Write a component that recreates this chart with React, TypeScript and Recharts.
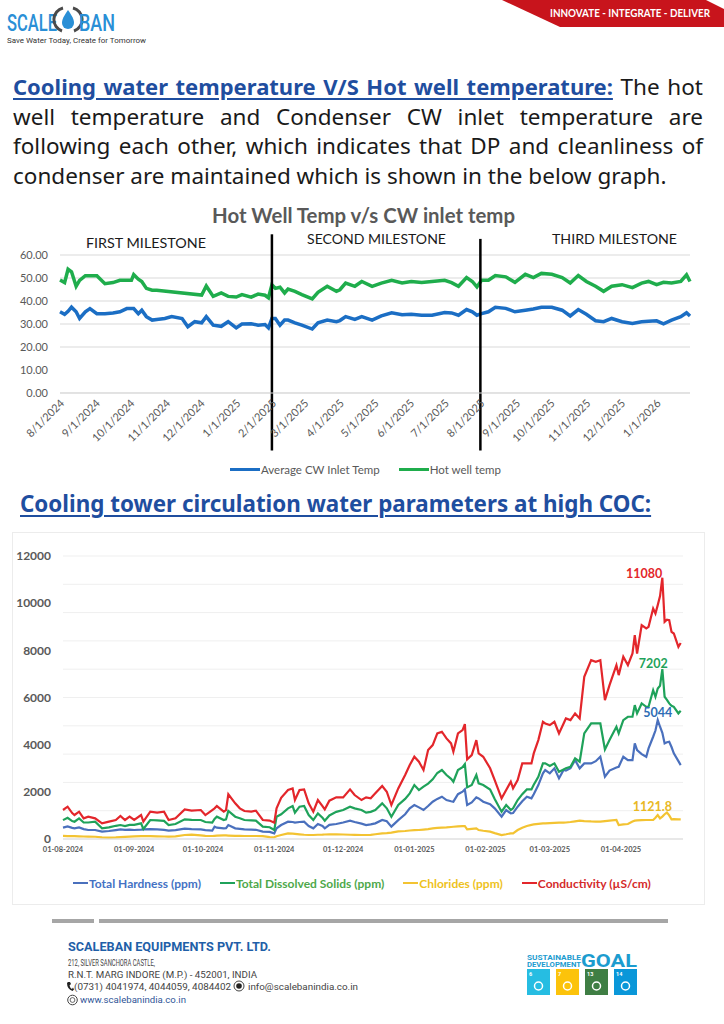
import React from 'react';
import { LineChart, Line, XAxis, YAxis, CartesianGrid, Legend, ReferenceLine } from 'recharts';

// ---- chart 1: hot well vs CW inlet (x = days since 1 Aug 2024) ----
const hwDays = [
  0, 4, 7, 10, 14, 17, 22, 26, 32, 39,
  46, 52, 58, 62, 64, 68, 71, 75, 80, 84,
  91, 97, 106, 111, 117, 123, 127, 133, 140, 146,
  153, 158, 166, 172, 178, 181, 184, 187, 191, 195,
  198, 204, 210, 219, 224, 232, 240, 243, 248, 256,
  262, 271, 279, 288, 297, 305, 314, 323, 334, 340,
  346, 353, 358, 362, 366, 372, 378, 387, 395, 404,
  411, 418, 427, 436, 443, 450, 457, 465, 472, 479,
  488, 497, 505, 511, 518, 524, 531, 539, 544, 547,
];
const cwInlet = [
  35.3, 34.2, 35.5, 37.3, 35.3, 32.4, 35.3, 36.7, 34.5, 34.5,
  34.8, 35.3, 36.7, 36.7, 36.7, 34.5, 36, 33.2, 31.7, 32,
  32.4, 33.2, 32.4, 28.8, 31, 30.5, 33.2, 29.5, 29, 31,
  28.3, 30, 30.1, 29.5, 29.8, 28.3, 32.4, 32.4, 29.5, 31.7,
  31.7, 30.5, 29.5, 27.8, 30.5, 31.7, 31, 31.5, 33.2, 32,
  33.2, 31.7, 33.5, 34.9, 34, 34.2, 33.8, 33.8, 35, 34.8,
  33.8, 36.3, 35.3, 33.8, 34.5, 35.3, 37.3, 36.8, 35.3, 36,
  36.5, 37.3, 37.3, 36, 33.5, 36.3, 34.2, 31.4, 31, 32.4,
  31, 30.2, 31, 31.2, 31.4, 30.1, 31.7, 33.2, 34.9, 33.5,
];
const hotWell = [
  49.1, 48, 53.8, 52.7, 46.4, 49, 51, 51, 51, 47.5,
  48, 49, 49, 49, 51.5, 49.5, 48.5, 45.5, 44.7, 44.7,
  null, null, null, null, null, 42.6, 46.5, 42, 43.5, 42,
  41.7, 42.8, 41.7, 43, 42.5, 41.4, 47, 45.5, 46, 43.5,
  45.2, 44.2, 42.8, 40.9, 43.8, 46.4, 44.2, 44.9, 47.8, 46.4,
  48.5, 46.4, 47.8, 49, 47.8, 48.5, 48, 48.5, 49, 48,
  46.4, 50.2, 48.5, 46.1, 49, 49, 51.1, 50.5, 48.1, 51.6,
  50.2, 52, 51.6, 50.2, 47.8, 51.1, 48.5, 46.4, 44.2, 46.4,
  47.1, 45.8, 47.8, 48.5, 47.1, 48.1, 47.8, 48.5, 51.4, 48.5,
];
const hwTickLabels = [
  '8/1/2024', '9/1/2024', '10/1/2024', '11/1/2024', '12/1/2024', '1/1/2025',
  '2/1/2025', '3/1/2025', '4/1/2025', '5/1/2025', '6/1/2025', '7/1/2025',
  '8/1/2025', '9/1/2025', '10/1/2025', '11/1/2025', '12/1/2025', '1/1/2026',
];
const hwYTicks = [0, 10, 20, 30, 40, 50, 60];
const milestoneDates = ['2/1/2025', '8/1/2025'];

// ---- chart 2: cooling tower water at high COC ----
const cocDays = [
  0, 2, 4, 5, 7, 9, 11, 14, 17, 20,
  23, 25, 27, 29, 31, 34, 35, 38, 41, 44,
  46, 49, 53, 56, 60, 62, 65, 66, 67, 70,
  71, 72, 75, 77, 79, 82, 84, 87, 90, 92,
  93, 95, 98, 100, 101, 103, 105, 107, 109, 111,
  113, 114, 116, 119, 122, 125, 127, 130, 132, 134,
  136, 139, 141, 143, 146, 149, 151, 153, 155, 157,
  159, 161, 163, 165, 167, 169, 170, 172, 174, 175,
  176, 178, 180, 181, 183, 186, 188, 191, 193, 195,
  196, 198, 200, 202, 204, 205, 207, 209, 210, 212,
  214, 216, 218, 219, 221, 223, 225, 227, 230, 232,
  234, 236, 238, 241, 242, 244, 246, 248, 249, 250,
  252, 254, 255, 257, 258, 259, 260, 261, 262, 263,
  264, 265, 266, 268, 269,
];
const hardness = [
  480, 530, 470, 452, 494, 420, 381, 381, 311, 340,
  380, 410, 390, 395, 381, 400, 410, 420, 410, 390,
  353, 380, 438, 420, 410, 380, 353, 523, 480, 452,
  460, 593, 452, 430, 410, 400, 390, 311, 300, 240,
  452, 593, 734, 720, 692, 720, 734, 551, 452, 635,
  550, 452, 600, 635, 700, 777, 720, 650, 593, 620,
  664, 805, 750, 523, 800, 1050, 1300, 1441, 1342, 1229,
  1400, 1582, 1700, 1793, 1652, 1600, 1582, 1900, 2005, 2104,
  1441, 1550, 1765, 1723, 1582, 1480, 1300, 946, 1229, 1087,
  1100, 1370, 1600, 1793, 1723, 1900, 2288, 2783, 2924, 2783,
  2995, 2571, 2924, 2900, 3000, 3347, 2995, 3206, 3206, 3300,
  3488, 2640, 2900, 3030, 3064, 3488, 3347, 3347, 4054, 3771,
  3600, 3488, 3842, 4336, 4600, 5044, 4760, 4500, 4054, 4100,
  4125, 3900, 3630, 3300, 3135,
];
const tds = [
  800, 900, 760, 734, 876, 700, 700, 734, 452, 494,
  560, 593, 550, 600, 600, 664, 424, 805, 790, 770,
  593, 635, 833, 810, 805, 720, 692, 850, 946, 805,
  830, 1187, 946, 880, 805, 790, 777, 523, 500, 381,
  946, 1050, 1300, 1398, 1116, 1370, 1398, 1017, 805, 1087,
  900, 777, 1000, 1150, 1229, 1370, 1300, 1229, 1116, 1150,
  1229, 1511, 1300, 946, 1441, 1700, 1935, 2288, 2076, 2217,
  2350, 2528, 2800, 2924, 2712, 2550, 2429, 2924, 3050, 3178,
  2189, 2288, 2712, 2360, 2289, 2100, 1700, 1158, 1441, 1229,
  1300, 1652, 1900, 2104, 2104, 2300, 2640, 3206, 3206, 3100,
  3206, 2853, 2950, 3000, 3064, 3418, 3276, 4478, 4900, 4900,
  4900, 3800, 4200, 4760, 4478, 5042, 5184, 5184, 5678, 5326,
  5749, 5607, 5607, 6313, 6031, 6384, 6500, 7202, 6031, 5900,
  5749, 5650, 5607, 5326, 5438,
];
const chlorides = [
  130, 125, 120, 118, 115, 105, 100, 95, 70, 60,
  65, 80, 90, 100, 110, 125, 127, 120, 110, 105,
  99, 110, 170, 184, 150, 130, 127, 135, 145, 155,
  150, 145, 135, 130, 127, 127, 127, 120, 80, 75,
  120, 170, 240, 230, 220, 200, 180, 170, 170, 180,
  185, 190, 195, 198, 190, 180, 175, 170, 170, 175,
  200, 240, 250, 270, 320, 340, 360, 375, 381, 400,
  420, 452, 470, 485, 494, 510, 520, 535, 545, 550,
  410, 430, 452, 381, 350, 311, 250, 169, 200, 240,
  240, 381, 480, 551, 600, 620, 640, 664, 664, 670,
  680, 692, 692, 700, 720, 750, 777, 760, 745, 740,
  734, 760, 780, 805, 593, 620, 635, 740, 777, 790,
  800, 805, 805, 805, 900, 1017, 876, 950, 1050, 1121.8,
  1000, 833, 840, 833, 833,
];
const conductivity = [
  1230, 1370, 1100, 1017, 1158, 876, 946, 876, 664, 734,
  805, 974, 805, 946, 805, 1017, 734, 1158, 1116, 1158,
  805, 876, 1257, 1200, 1229, 1017, 1229, 1300, 1398, 1158,
  1229, 1893, 1511, 1300, 1187, 1158, 1200, 805, 780, 691,
  1300, 1750, 2076, 2146, 1652, 2076, 2100, 1511, 1158, 1652,
  1398, 1257, 1624, 1765, 1765, 2104, 1864, 1652, 1765, 1723,
  1935, 2246, 2005, 1441, 2146, 2712, 3135, 3488, 3276, 2924,
  3771, 3983, 4478, 4548, 4266, 4054, 3700, 4478, 4618, 4872,
  3375, 3559, 4195, 3630, 3488, 3000, 2500, 1723, 2076, 2429,
  2146, 2500, 3206, 3206, 3206, 3630, 4195, 4971, 4900, 4830,
  4971, 4478, 4900, 5113, 5042, 5326, 5113, 6877, 7584, 7513,
  7584, 5890, 6525, 7372, 6949, 7725, 7372, 7866, 8643, 7866,
  9067, 8926, 8996, 9775, 9563, 9916, 10300, 11080, 9208, 9300,
  9278, 8784, 8714, 8148, 8313,
];
const cocSeriesNames = ['Total Hardness (ppm)', 'Total Dissolved Solids (ppm)', 'Chlorides (ppm)', 'Conductivity (µS/cm)'];
const cocTickLabels = [
  '01-08-2024', '01-09-2024', '01-10-2024', '01-11-2024', '01-12-2024',
  '01-01-2025', '01-02-2025', '01-03-2025', '01-04-2025',
];
const cocYTicks = [0, 2000, 4000, 6000, 8000, 10000, 12000];

const FONT = 'Lato, "Noto Sans", sans-serif';
const BASE = Date.UTC(2024, 7, 1);
const toDay = (y: number, m: number, d: number) => (Date.UTC(y, m - 1, d) - BASE) / 86400000;
const usDay = (s: string) => { const [m, d, y] = s.split('/').map(Number); return toDay(y, m, d); };
const inDay = (s: string) => { const [d, m, y] = s.split('-').map(Number); return toDay(y, m, d); };

const hwTicks = hwTickLabels.map(usDay);
const cocTicks = cocTickLabels.map(inDay);
const cocGrid = Array.from({ length: 31 }, (_, i) => i * 400);

const hwData = hwDays.map((day, i) => ({ day, cw: cwInlet[i], hw: hotWell[i] }));
const cocData = cocDays.map((day, i) => ({
  day, th: hardness[i], tds: tds[i], cl: chlorides[i], ec: conductivity[i],
}));

function HwTick(props: any) {
  const { x, y, payload } = props;
  const tx = x + 5;
  const ty = y + 3;
  return (
    <text x={tx} y={ty} textAnchor="end" fontSize={11} fill="#595959" fontFamily={FONT}
      transform={`rotate(-45 ${tx} ${ty})`}>
      {hwTickLabels[hwTicks.indexOf(payload.value)]}
    </text>
  );
}

function peakLabel(values: number[], color: string, dx: number, dy: number, anchor: string) {
  const top = Math.max(...values);
  return (p: any) => {
    if (values[p.index] !== top) return <g />;
    return (
      <text x={p.x + dx} y={p.y + dy} textAnchor={anchor} fill={color} fontSize={12.5}
        fontWeight={700} fontFamily={FONT}>{top}</text>
    );
  };
}

function legendRow(opt: { shift: number; gap: number; sample: number; thick: number; size: number; bold: boolean; textColors?: Record<string, string> }) {
  return (props: any) => (
    <div style={{ display: 'flex', justifyContent: 'center', alignItems: 'center', height: 20,
      paddingLeft: opt.shift, gap: opt.gap, fontFamily: FONT, fontSize: opt.size, fontWeight: opt.bold ? 700 : 400 }}>
      {(props.payload || []).map((p: any) => (
        <span key={p.value} style={{ display: 'flex', alignItems: 'center', color: opt.textColors ? opt.textColors[p.value] : '#595959' }}>
          <span style={{ display: 'inline-block', width: opt.sample, height: opt.thick, background: p.color, marginRight: 1 }} />
          {p.value}
        </span>
      ))}
    </div>
  );
}

function Abs({ x, y, w, h, children }: any) {
  return <div style={{ position: 'absolute', left: x, top: y, width: w, height: h }}>{children}</div>;
}

function FitText({ x, y, w, size, color, weight, text, family }: any) {
  return (
    <svg style={{ position: 'absolute', left: x, top: y - size, overflow: 'visible' }} width={w} height={size * 1.4}>
      <text x={0} y={size} textLength={w} lengthAdjust="spacingAndGlyphs" fontSize={size}
        fill={color} fontWeight={weight} fontFamily={family || FONT}>{text}</text>
    </svg>
  );
}

const bodyLines = [
  'well temperature and Condenser CW inlet temperature are',
  'following each other, which indicates that DP and cleanliness of',
];

export default function App() {
  const lineStyle: React.CSSProperties = {
    fontFamily: '"Noto Sans", sans-serif', fontSize: 22.5, lineHeight: '29.7px', color: '#1a1a1a',
    textAlign: 'justify', textAlignLast: 'justify', whiteSpace: 'nowrap',
  };
  const heading: React.CSSProperties = {
    fontFamily: '"Noto Sans", sans-serif', fontWeight: 700, color: '#1f4e9f', textDecoration: 'underline',
    textUnderlineOffset: 3,
  };
  return (
    <div style={{ position: 'absolute', left: 0, top: 0, width: 724, height: 1024, background: '#fff', overflow: 'hidden' }}>
      {/* header */}
      <svg style={{ position: 'absolute', left: 0, top: 0 }} width={724} height={45}>
        <polygon points="502,0 706,0 724,9 724,27 560,27" fill="#c8141c" />
        <text x={550} y={17} textLength={160} lengthAdjust="spacingAndGlyphs" fontSize={10.5} fontWeight={700}
          fill="#fff" fontFamily={FONT}>INNOVATE - INTEGRATE - DELIVER</text>
        <text x={7} y={31} textLength={50} lengthAdjust="spacingAndGlyphs" fontSize={23} fontWeight={500}
          fill="#2a8fd6" fontFamily="Roboto, sans-serif">SCALE</text>
        <path d="M63 8 A 12 12 0 0 0 62 31" stroke="#4a4a4a" strokeWidth={3} fill="none" />
        <path d="M73 8 A 12 12 0 0 1 74 31" stroke="#4a4a4a" strokeWidth={3} fill="none" />
        <path d="M68 10 C 72 16, 74 19, 74 23 A 6 6 0 0 1 62 23 C 62 19, 64 16, 68 10 Z" fill="#2a8fd6" />
        <text x={79} y={31} textLength={36} lengthAdjust="spacingAndGlyphs" fontSize={23} fontWeight={500}
          fill="#2a8fd6" fontFamily="Roboto, sans-serif">BAN</text>
        <text x={7} y={43} textLength={139} lengthAdjust="spacingAndGlyphs" fontSize={7.5} fill="#333"
          fontFamily="Roboto, sans-serif">Save Water Today, Create for Tomorrow</text>
      </svg>

      {/* intro paragraph */}
      <div style={{ position: 'absolute', left: 13, top: 72, width: 690 }}>
        <div style={lineStyle}><span style={{ ...heading, fontSize: 22 }}>Cooling water temperature V/S Hot well temperature:</span> The hot</div>
        {bodyLines.map((t) => <div key={t} style={lineStyle}>{t}</div>)}
        <div style={{ ...lineStyle, textAlignLast: 'left' }}>condenser are maintained which is shown in the below graph.</div>
      </div>

      {/* chart 1 */}
      <FitText x={212} y={223} w={303} size={20} color="#595959" weight={700} text="Hot Well Temp v/s CW inlet temp" />
      <FitText x={86} y={248} w={120} size={14} color="#1a1a1a" weight={400} text="FIRST MILESTONE" />
      <FitText x={307} y={244} w={139} size={14} color="#1a1a1a" weight={400} text="SECOND MILESTONE" />
      <FitText x={552} y={244} w={125} size={14} color="#1a1a1a" weight={400} text="THIRD MILESTONE" />
      <Abs x={0} y={200} w={724} h={279}>
        <LineChart width={724} height={279} data={hwData} margin={{ top: 55, right: 34, left: 0, bottom: 0 }}>
          <CartesianGrid vertical={false} stroke="#d9d9d9" />
          <XAxis type="number" dataKey="day" domain={[0, 547]} ticks={hwTicks} interval={0} tick={<HwTick />}
            tickLine={false} axisLine={{ stroke: '#d9d9d9' }} height={66} />
          <YAxis domain={[0, 60]} ticks={hwYTicks} tickFormatter={(v: number) => v.toFixed(2)} width={60}
            tickLine={false} axisLine={false} tickMargin={6} tick={{ fontSize: 11, fill: '#595959', fontFamily: FONT }} />
          <Line dataKey="cw" name="Average CW Inlet Temp" stroke="#1b6ec4" strokeWidth={3.5} dot={false}
            isAnimationActive={false} />
          <Line dataKey="hw" name="Hot well temp" stroke="#1fad4c" strokeWidth={3.5} dot={false} connectNulls
            isAnimationActive={false} />
          {milestoneDates.map((d, i) => (
            <ReferenceLine key={d} segment={[{ x: usDay(d), y: i === 0 ? 69 : 67 }, { x: usDay(d), y: -25 }]}
              stroke="#000" strokeWidth={2.5} ifOverflow="visible" />
          ))}
          <Legend wrapperStyle={{ left: 0, width: 724 }}
            content={legendRow({ shift: 7, gap: 19, sample: 30, thick: 3, size: 11.5, bold: false })} />
        </LineChart>
      </Abs>

      {/* chart 2 */}
      <div style={{ position: 'absolute', left: 20, top: 490, fontSize: 22.4, lineHeight: '27px', whiteSpace: 'nowrap', ...heading }}>
        Cooling tower circulation water parameters at high COC:
      </div>
      <div style={{ position: 'absolute', left: 12, top: 532, width: 691, height: 371, border: '1px solid #ececec' }} />
      <Abs x={0} y={530} w={724} h={363}>
        <LineChart width={724} height={363} data={cocData} margin={{ top: 26, right: 41, left: 0, bottom: 0 }}>
          <CartesianGrid vertical={false} stroke="#efefef" horizontalValues={cocGrid} />
          <XAxis type="number" dataKey="day" domain={[0, 270]} ticks={cocTicks} interval={0}
            tickFormatter={(v: number) => cocTickLabels[cocTicks.indexOf(v)]} tickLine={false}
            axisLine={{ stroke: '#d9d9d9' }} height={34} tickMargin={2}
            tick={{ fontSize: 7.5, fontWeight: 700, fill: '#595959', fontFamily: FONT }} />
          <YAxis domain={[0, 12000]} ticks={cocYTicks} width={63} tickLine={false} axisLine={false} tickMargin={6}
            tick={{ fontSize: 12, fontWeight: 700, fill: '#595959', fontFamily: FONT }} />
          <Line dataKey="th" name={cocSeriesNames[0]} stroke="#4a70bd" strokeWidth={2.2} dot={false}
            isAnimationActive={false} label={peakLabel(hardness, '#2f6db5', 0, -3, 'middle')} />
          <Line dataKey="tds" name={cocSeriesNames[1]} stroke="#1fa25a" strokeWidth={2.2} dot={false}
            isAnimationActive={false} label={peakLabel(tds, '#1fa25a', -9, -1, 'middle')} />
          <Line dataKey="cl" name={cocSeriesNames[2]} stroke="#f3c332" strokeWidth={2.2} dot={false}
            isAnimationActive={false} label={peakLabel(chlorides, '#e9b824', 5, -2, 'end')} />
          <Line dataKey="ec" name={cocSeriesNames[3]} stroke="#e3262b" strokeWidth={2.2} dot={false}
            isAnimationActive={false} label={peakLabel(conductivity, '#e3262b', 0, 0, 'end')} />
          <Legend wrapperStyle={{ left: 0, width: 724 }}
            itemSorter={(item: any) => cocSeriesNames.indexOf(item.value)}
            content={legendRow({ shift: -14, gap: 19, sample: 15, thick: 2.5, size: 12, bold: true,
              textColors: {
                [cocSeriesNames[0]]: '#4472c4', [cocSeriesNames[1]]: '#4ea84a',
                [cocSeriesNames[2]]: '#eec21c', [cocSeriesNames[3]]: '#d42a2a',
              } })} />
        </LineChart>
      </Abs>

      {/* footer */}
      <div style={{ position: 'absolute', left: 52, top: 919, width: 42, height: 4, background: '#a6a6a6' }} />
      <div style={{ position: 'absolute', left: 99, top: 919, width: 569, height: 4, background: '#a6a6a6' }} />
      <FitText x={68} y={951} w={203} size={13} color="#1f5fa8" weight={700} text="SCALEBAN EQUIPMENTS PVT. LTD." family="Roboto, sans-serif" />
      <FitText x={68} y={966} w={87} size={9} color="#444" weight={400} text="212, SILVER SANCHORA CASTLE," family="Roboto, sans-serif" />
      <FitText x={68} y={978} w={189} size={9} color="#444" weight={400} text="R.N.T. MARG INDORE (M.P.) - 452001, INDIA" family="Roboto, sans-serif" />
      <svg style={{ position: 'absolute', left: 66, top: 981 }} width={8} height={10}>
        <path d="M2 1 L4 1 L5 3 L3.5 4.5 Q4 7 6 8 L7 6.5 L8 8.5 L6.5 10 Q1 8 1 2 Z" fill="#222" />
      </svg>
      <FitText x={74} y={990} w={157} size={9} color="#444" weight={400} text="(0731) 4041974, 4044059, 4084402" family="Roboto, sans-serif" />
      <svg style={{ position: 'absolute', left: 233, top: 980 }} width={12} height={12}>
        <circle cx={6} cy={6} r={5} fill="#fff" stroke="#444" strokeWidth={1} />
        <circle cx={6} cy={6} r={2.8} fill="#222" />
      </svg>
      <FitText x={248} y={990} w={110} size={9} color="#444" weight={400} text="info@scalebanindia.co.in" family="Roboto, sans-serif" />
      <svg style={{ position: 'absolute', left: 67, top: 994 }} width={12} height={12}>
        <circle cx={5.5} cy={6} r={4.8} fill="#fff" stroke="#444" strokeWidth={1} />
        <circle cx={5.5} cy={6} r={2.4} fill="none" stroke="#444" strokeWidth={0.8} />
      </svg>
      <FitText x={80} y={1003} w={106} size={9} color="#2f5597" weight={400} text="www.scalebanindia.co.in" family="Roboto, sans-serif" />

      <svg style={{ position: 'absolute', left: 520, top: 945 }} width={130} height={55}>
        <text x={7} y={15} textLength={54} lengthAdjust="spacingAndGlyphs" fontSize={6.5} fontWeight={700} fill="#1c9ccf" fontFamily="Roboto, sans-serif">SUSTAINABLE</text>
        <text x={7} y={21.5} textLength={54} lengthAdjust="spacingAndGlyphs" fontSize={6.5} fontWeight={700} fill="#1c9ccf" fontFamily="Roboto, sans-serif">DEVELOPMENT</text>
        <text x={61} y={22} textLength={56} lengthAdjust="spacingAndGlyphs" fontSize={18} fontWeight={700} fill="#1c9ccf" fontFamily="Roboto, sans-serif">GOAL</text>
        {[['#26bde2', '6'], ['#fcc30b', '7'], ['#3f7e44', '13'], ['#0a97d9', '14']].map(([c, n], i) => (
          <g key={n}>
            <rect x={7 + i * 29} y={24} width={23} height={26} fill={c} />
            <text x={9 + i * 29} y={31} fontSize={5.5} fontWeight={700} fill="#fff" fontFamily="Roboto, sans-serif">{n}</text>
            <circle cx={18.5 + i * 29} cy={41} r={4} fill="none" stroke="#fff" strokeWidth={1.5} />
          </g>
        ))}
      </svg>
    </div>
  );
}
